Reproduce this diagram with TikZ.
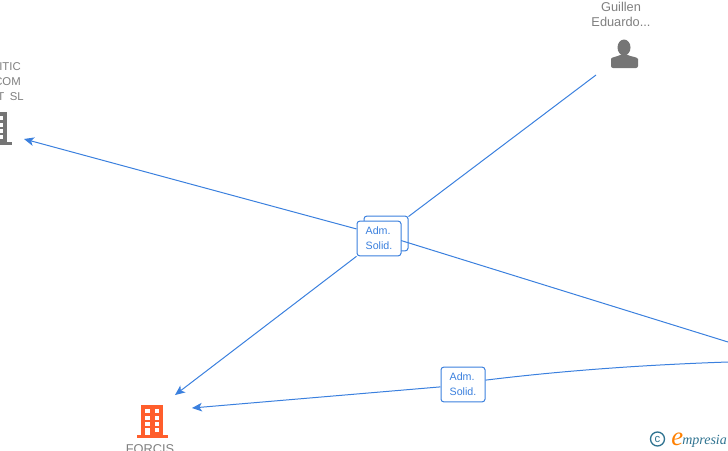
\documentclass[tikz,border=0pt]{standalone}
\usepackage{fontspec}
\setmainfont{Liberation Sans}
\newfontfamily\logofont{Liberation Serif}
\usetikzlibrary{arrows.meta}
\definecolor{linkblue}{HTML}{3B80DE}
\definecolor{labelgray}{HTML}{7F7F7F}
\definecolor{icongray}{HTML}{757575}
\definecolor{iconorange}{HTML}{FF5E2C}
\definecolor{logoteal}{HTML}{2F7390}
\tikzset{
  link/.style={linkblue,line width=0.75pt},
  linkarrow/.style={link,-{Stealth[length=7.5pt,width=6.5pt,inset=2pt]}},
  admbox/.style={draw=linkblue,fill=white,rounded corners=2pt,line width=0.75pt,minimum width=33pt,minimum height=26pt,inner sep=0pt,align=left,text=linkblue,font=\fontsize{8}{11.2}\selectfont},
  entity/.style={text=labelgray,inner sep=0pt,align=center,font=\fontsize{9.6}{11.2}\selectfont},
  pics/building/.style={code={
    \fill[#1] (-11,-33) rectangle (11,0);
    \fill[#1] (-15,-3) rectangle (16,0);
    \foreach \wy in {-29,-22,-16}{
      \fill[white] (-7,\wy) rectangle (-2.5,\wy+3.5);
      \fill[white] (2.5,\wy) rectangle (7,\wy+3.5);
    }
    \fill[white] (-7,-10) rectangle (-2.5,-3);
    \fill[white] (2.5,-10) rectangle (7,-6);
  }},
}
\begin{document}
\begin{tikzpicture}[x=0.75pt,y=-0.75pt]
  \useasboundingbox (0,0) rectangle (728,450);
  % free ends
  \coordinate (guillenend) at (596,75);
  \coordinate (rightupper) at (728,342);
  \coordinate (rightlower) at (728,362);
  \coordinate (frontentry) at (401,240.5);
  \coordinate (itictip) at (24,139);
  \coordinate (forcistipa) at (175,395);
  \coordinate (forcistipb) at (192,408);
  % boxes
  \node[admbox] (admback) at (386,233.5) {};
  \draw[link] (guillenend) -- (admback);
  \draw[link] (rightupper) -- (frontentry);
  \node[admbox] (admfront) at (379,238.5) {Adm.\\Solid.};
  \node[admbox] (admlow) at (463,384.5) {Adm.\\Solid.};
  \draw[linkarrow] (admfront.157) -- (itictip);
  \draw[linkarrow] (admfront.south west) -- (forcistipa);
  \draw[link] (rightlower) .. controls (640,365) and (560,371) .. (admlow.11);
  \draw[linkarrow] (admlow.186) -- (forcistipb);
  % people and firms
  \node[entity] (guillen) at (621,14.5) {Guillen\\Eduardo...};
  \fill[icongray] (624,47.5) ellipse (6.5 and 8);
  \fill[icongray,rounded corners=1.5pt] (611,68) -- (611,61) .. controls (611,57) and (618,56.5) .. (621,54) -- (627,54) .. controls (630,56.5) and (638,57) .. (638,61) -- (638,68) -- cycle;
  \node[entity,anchor=east,align=right,font=\fontsize{8.5}{11.2}\selectfont] (itic) at (24,82) {ITIC\kern2.25pt\\COM\kern2.25pt\\T\hspace{0.5em}SL};
  \pic at (-4,145) {building=icongray};
  \pic at (152,438) {building=iconorange};
  \node[entity,anchor=north] (forcis) at (150,444.5) {FORCIS};
  % logo
  \node[circle,draw=logoteal,line width=1pt,minimum size=10.5pt,inner sep=0pt,text=logoteal,font=\fontsize{8.5}{8.5}\selectfont] (copyr) at (657.5,439) {c};
  \node[anchor=base west,inner sep=0pt,text=orange,font=\logofont\itshape\fontsize{20}{20}\selectfont] (logoe) at (671,445) {e};
  \node[anchor=base west,inner sep=0pt,text=logoteal,font=\logofont\itshape\fontsize{10.5}{11}\selectfont] (logotext) at (682,444) {mpresia};
\end{tikzpicture}
\end{document}
